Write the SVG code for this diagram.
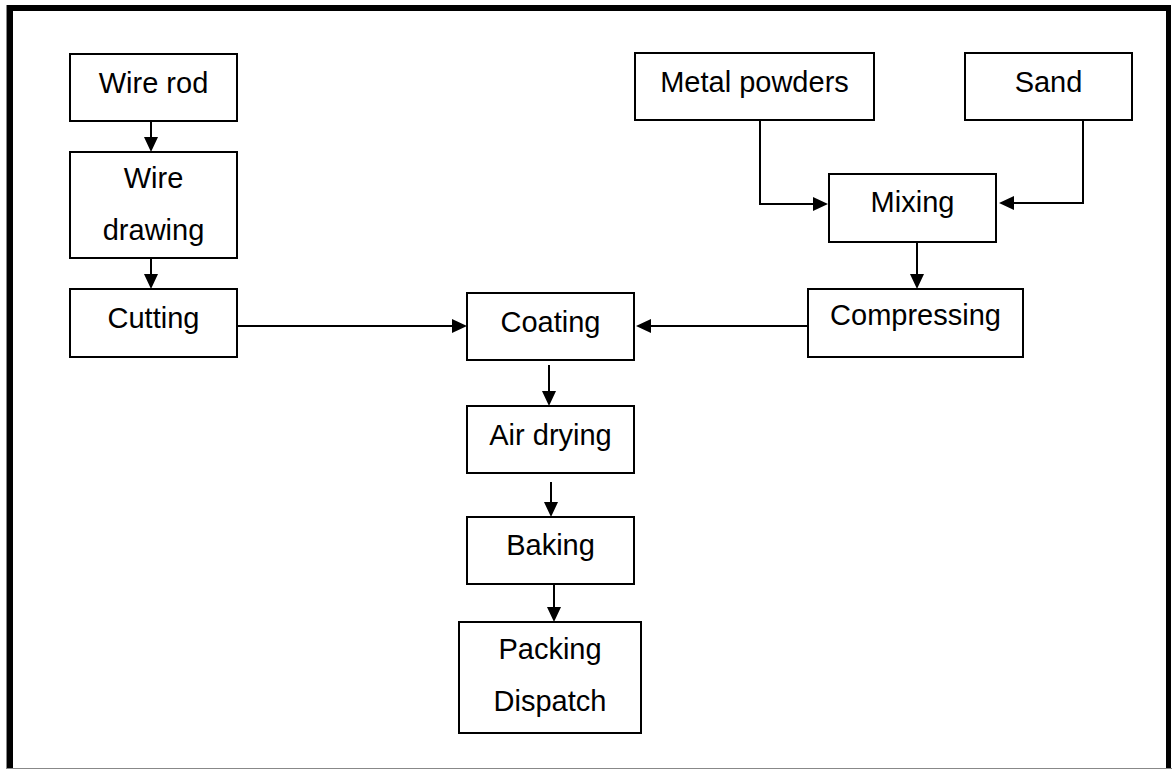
<svg xmlns="http://www.w3.org/2000/svg" width="1172" height="769" viewBox="0 0 1172 769">
  <style>
    .box { fill: #ffffff; stroke: #000000; stroke-width: 2; }
    .lbl { font-family: "Liberation Sans", Arial, sans-serif; font-size: 29px; fill: #000000; text-anchor: middle; }
    .con { fill: none; stroke: #000000; stroke-width: 2; marker-end: url(#arr); }
  </style>
  <defs>
    <marker id="arr" markerUnits="userSpaceOnUse" markerWidth="15" markerHeight="14" refX="5" refY="7" orient="auto">
      <path d="M0,0 L15,7 L0,14 z" fill="#000000"/>
    </marker>
  </defs>
  <rect x="0" y="0" width="1172" height="769" fill="#ffffff"/>
  <g id="frame">
    <line x1="6.5" y1="5" x2="6.5" y2="769" stroke="#888888" stroke-width="1"/>
    <rect x="7" y="5" width="1164" height="6" fill="#000000"/>
    <rect x="7" y="5" width="6" height="764" fill="#000000"/>
    <rect x="1166" y="5" width="5" height="764" fill="#000000"/>
    <line x1="7" y1="768.5" x2="1172" y2="768.5" stroke="#888888" stroke-width="1"/>
  </g>
  <g id="connectors">
    <line class="con" x1="151" y1="121" x2="151" y2="142"/>
    <line class="con" x1="151" y1="258" x2="151" y2="279"/>
    <line class="con" x1="237" y1="326" x2="457" y2="326"/>
    <line class="con" x1="808" y1="326" x2="646" y2="326"/>
    <line class="con" x1="549" y1="365" x2="549" y2="396"/>
    <line class="con" x1="551" y1="482" x2="551" y2="507"/>
    <line class="con" x1="554" y1="584" x2="554" y2="612"/>
    <polyline class="con" points="760,120 760,204 818,204"/>
    <polyline class="con" points="1083,120 1083,203 1009,203"/>
    <line class="con" x1="917" y1="242" x2="917" y2="279"/>
  </g>
  <g id="wire-rod">
    <rect class="box" x="70" y="54" width="167" height="67"/>
    <text class="lbl" x="153.5" y="93">Wire rod</text>
  </g>
  <g id="wire-drawing">
    <rect class="box" x="70" y="152" width="167" height="106"/>
    <text class="lbl" x="153.5" y="188">Wire</text>
    <text class="lbl" x="153.5" y="240">drawing</text>
  </g>
  <g id="cutting">
    <rect class="box" x="70" y="289" width="167" height="68"/>
    <text class="lbl" x="153.5" y="328">Cutting</text>
  </g>
  <g id="metal-powders">
    <rect class="box" x="635" y="53" width="239" height="67"/>
    <text class="lbl" x="754.5" y="92">Metal powders</text>
  </g>
  <g id="sand">
    <rect class="box" x="965" y="53" width="167" height="67"/>
    <text class="lbl" x="1048.5" y="92">Sand</text>
  </g>
  <g id="mixing">
    <rect class="box" x="829" y="174" width="167" height="68"/>
    <text class="lbl" x="912.5" y="212">Mixing</text>
  </g>
  <g id="compressing">
    <rect class="box" x="808" y="289" width="215" height="68"/>
    <text class="lbl" x="915.5" y="325">Compressing</text>
  </g>
  <g id="coating">
    <rect class="box" x="467" y="293" width="167" height="67"/>
    <text class="lbl" x="550.5" y="332">Coating</text>
  </g>
  <g id="air-drying">
    <rect class="box" x="467" y="406" width="167" height="67"/>
    <text class="lbl" x="550.5" y="445">Air drying</text>
  </g>
  <g id="baking">
    <rect class="box" x="467" y="517" width="167" height="67"/>
    <text class="lbl" x="550.5" y="555">Baking</text>
  </g>
  <g id="packing-dispatch">
    <rect class="box" x="459" y="622" width="182" height="111"/>
    <text class="lbl" x="550" y="659">Packing</text>
    <text class="lbl" x="550" y="711">Dispatch</text>
  </g>
</svg>
